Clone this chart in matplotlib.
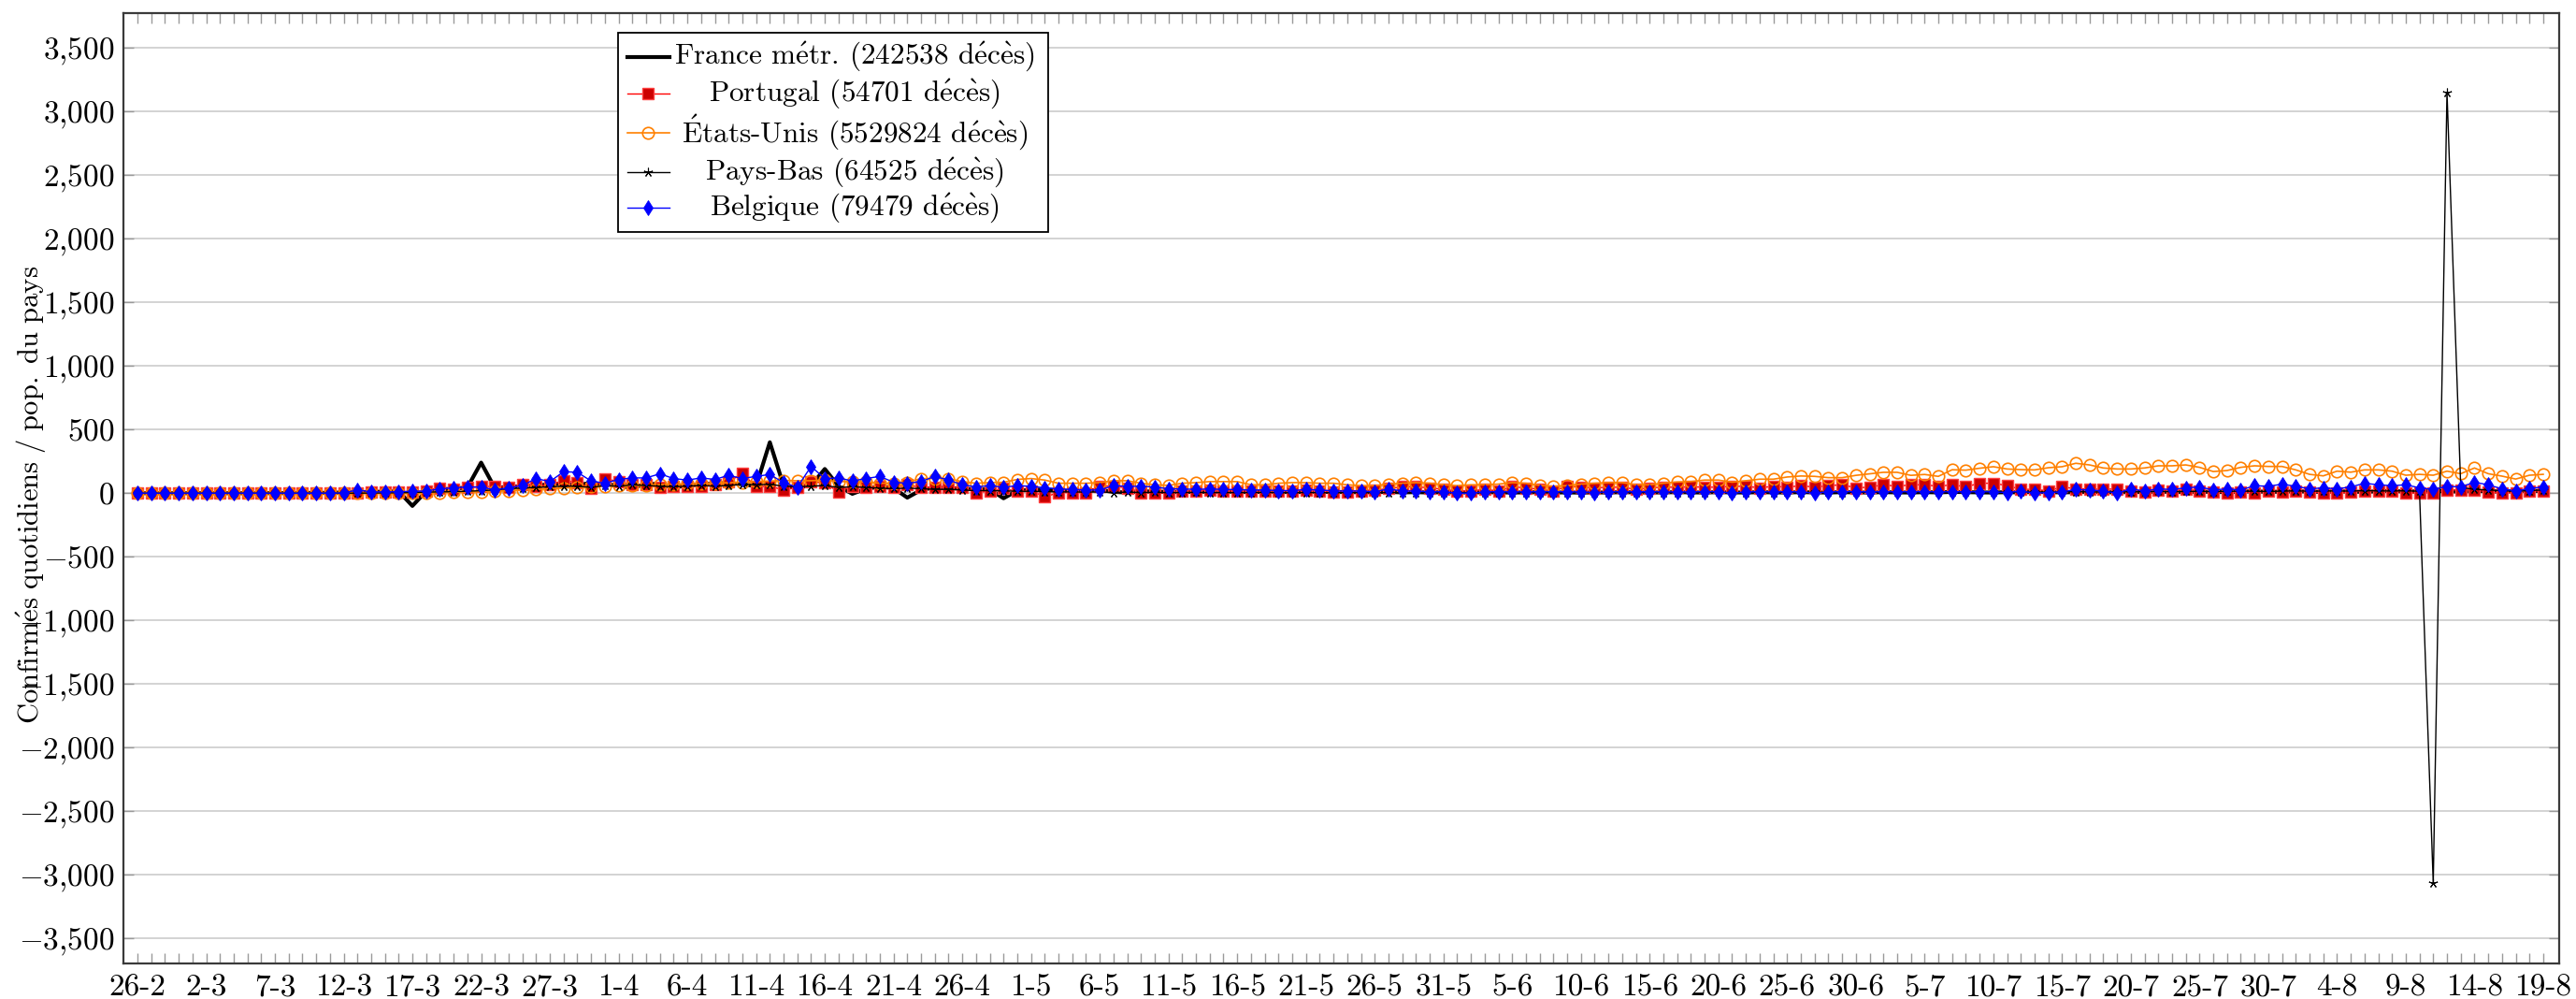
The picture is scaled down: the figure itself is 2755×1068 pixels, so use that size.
import numpy as np
import matplotlib
matplotlib.use('Agg')
import matplotlib.pyplot as plt
from matplotlib.lines import Line2D
from matplotlib.patches import Rectangle
from matplotlib.ticker import FuncFormatter, FixedLocator

plt.rcParams['mathtext.fontset'] = 'cm'
plt.rcParams['font.family'] = ['cmr10', 'DejaVu Serif']
plt.rcParams['axes.unicode_minus'] = False

# ---------------- data ----------------
tick_labels = ['26-2', '2-3', '7-3', '12-3', '17-3', '22-3', '27-3', '1-4', '6-4', '11-4',
               '16-4', '21-4', '26-4', '1-5', '6-5', '11-5', '16-5', '21-5', '26-5', '31-5',
               '5-6', '10-6', '15-6', '20-6', '25-6', '30-6', '5-7', '10-7', '15-7', '20-7',
               '25-7', '30-7', '4-8', '9-8', '14-8', '19-8']

france = [0, 0, 0, 0, 0, 0, 0, 0, 0, 0,
          1, 1, 2, 2, 3, 5, 8, 10, 12, 15,
          -100, 15, 30, 35, 45, 240, 40, 50, 55, 60,
          70, 75, 65, 80, 70, 60, 40, 75, 70, 45,
          60, 70, 75, 80, 70, 55, 400, 60, 45, 60,
          190, 55, -5, 35, 50, 40, -35, 25, 45, 40,
          35, 30, 30, -40, 20, 25, 30, 20, 15, 20,
          25, 10, 5, 15, 12, 10, 8, 12, 10, 15,
          10, 8, 12, 10, 8, 10, 12, 8, 10, 6,
          8, 10, 6, 8, 5, 8, 6, 5, 8, 6,
          5, 6, 8, 5, 6, 4, 6, 5, 8, 6,
          5, 6, 8, 6, 5, 8, 6, 5, 8, 6,
          5, 8, 6, 5, 8, 6, 5, 8, 6, 5,
          8, 6, 10, 8, 6, 5, 8, 6, 10, 8,
          6, 8, 10, 8, 6, 10, 8, 12, 10, 8,
          12, 10, 8, 12, 15, 10, 12, 15, 12, 10,
          15, 12, 10, 15, 18, 12, 15, 18, 15, 12,
          18, 15, 12, 18, 15, 20]

portugal = [0, 0, 0, 0, 0, 0, 0, 0, 0, 0,
            0, 0, 0, 0, 0, 2, 5, 8, 10, 12,
            10, 20, 42, 30, 45, 50, 55, 45, 70, 55,
            65, 100, 85, 35, 115, 90, 65, 65, 45, 55,
            55, 55, 65, 90, 155, 50, 55, 25, 45, 90,
            80, 10, 55, 45, 55, 45, 65, 45, 45, 45,
            45, 5, 15, 35, 15, 20, -30, 5, 5, 5,
            55, 55, 42, 5, 5, 0, 15, 20, 25, 15,
            20, 15, 15, 20, 15, 25, 15, 10, 10, 20,
            25, 35, 50, 50, 42, 30, 17, 17, 30, 17,
            50, 42, 30, 17, 54, 47, 42, 47, 47, 30,
            42, 47, 47, 50, 47, 47, 54, 54, 42, 54,
            47, 59, 47, 59, 66, 42, 47, 66, 54, 66,
            66, 54, 66, 50, 78, 78, 60, 30, 30, 17,
            50, 34, 34, 30, 34, 17, 10, 25, 17, 30,
            17, 10, 5, 10, 5, 17, 10, 17, 10, 5,
            0, 10, 17, 17, 17, 5, 0, 5, 25, 25,
            25, 10, 0, 5, 17, 17]

etats_unis = [0, 0, 0, 0, 0, 0, 0, 0, 0, 0,
              0, 0, 0, 0, 0, 0, 0, 0, 1, 1,
              2, 3, 5, 7, 9, 12, 15, 20, 25, 30,
              35, 40, 45, 50, 55, 60, 58, 62, 68, 70,
              72, 75, 78, 82, 85, 90, 95, 100, 98, 98,
              103, 91, 91, 91, 78, 78, 86, 115, 115, 115,
              91, 78, 83, 86, 108, 115, 103, 78, 78, 78,
              83, 98, 98, 78, 66, 61, 78, 83, 91, 91,
              91, 66, 66, 78, 83, 83, 78, 78, 66, 59,
              59, 71, 78, 83, 78, 66, 59, 66, 66, 71,
              83, 78, 61, 54, 59, 71, 78, 83, 83, 66,
              66, 78, 88, 91, 103, 103, 86, 98, 110, 110,
              127, 135, 132, 122, 122, 140, 152, 164, 164, 140,
              147, 132, 184, 181, 196, 208, 190, 185, 183, 200,
              208, 235, 222, 198, 190, 190, 198, 215, 215, 222,
              203, 170, 178, 203, 215, 210, 210, 183, 148, 136,
              173, 165, 183, 183, 173, 141, 148, 141, 173, 153,
              198, 153, 134, 111, 141, 148]

pays_bas = [0, 0, 0, 0, 0, 0, 0, 0, 0, 0,
            0, 0, 0, 0, 0, 0, 0, 1, 2, 3,
            5, 8, 10, 12, 15, 20, 25, 35, 40, 45,
            50, 55, 55, 45, 60, 55, 65, 60, 55, 50,
            55, 60, 55, 60, 70, 65, 70, 55, 50, 55,
            60, 45, 50, 45, 40, 35, 40, 35, 30, 30,
            25, 20, 20, 18, 15, 15, 12, 10, 10, 8,
            10, 5, 8, 5, 6, 4, 5, 6, 4, 5,
            4, 5, 6, 4, 3, 5, 4, 3, 5, 4,
            3, 4, 5, 3, 4, 3, 5, 4, 3, 4,
            3, 4, 3, 5, 4, 3, 4, 5, 3, 4,
            5, 4, 3, 5, 4, 6, 5, 4, 6, 5,
            6, 5, 7, 6, 5, 7, 6, 8, 7, 6,
            8, 7, 9, 8, 7, 10, 8, 9, 10, 8,
            10, 12, 10, 9, 12, 10, 12, 14, 12, 13,
            15, 12, 14, 16, 15, 13, 16, 18, 15, 17,
            18, 16, 20, 18, 17, 19, 15, -3065, 3150, 45,
            30, 25, 20, 15, 20, 25]

belgique = [0, 0, 0, 0, 0, 0, 0, 0, 0, 0,
            0, 0, 0, 0, 0, 2, 25, 10, 10, 12,
            15, 17, 34, 42, 49, 49, 25, 42, 61, 115,
            91, 169, 164, 96, 78, 108, 120, 120, 152, 115,
            103, 120, 108, 140, 115, 132, 147, 83, 47, 210,
            115, 120, 96, 115, 132, 86, 78, 91, 132, 103,
            66, 49, 59, 47, 59, 54, 42, 34, 29, 25,
            25, 59, 54, 54, 49, 34, 34, 29, 34, 29,
            29, 25, 25, 20, 20, 29, 25, 17, 17, 17,
            10, 34, 17, 17, 10, 12, 0, 0, 10, 12,
            10, 10, 12, 12, 10, 10, 5, 10, 12, 10,
            12, 10, 10, 10, 12, 12, 0, 10, 12, 10,
            12, 10, 0, 10, 12, 12, 10, 12, 10, 12,
            12, 10, 12, 10, 12, 10, 5, 17, 0, 5,
            10, 29, 25, 17, 0, 34, 17, 34, 29, 42,
            49, 25, 34, 25, 59, 54, 71, 54, 34, 42,
            34, 49, 78, 66, 59, 66, 42, 29, 54, 49,
            86, 66, 34, 17, 37, 49]

legend_labels = ['France métr. (242538 décès)', 'Portugal (54701 décès)',
                 'États-Unis (5529824 décès)', 'Pays-Bas (64525 décès)',
                 'Belgique (79479 décès)']
y_label = 'Confirmés quotidiens / pop. du pays'


def tex(s):
    """Render a string in Computer Modern via mathtext, with proper accents."""
    acc = {'é': r'\mathrm{\acute{e}}', 'è': r'\mathrm{\grave{e}}', 'É': r'\mathrm{\acute{E}}'}
    out, buf = [], ''
    for ch in s:
        if ch in acc:
            if buf:
                out.append(r'\text{' + buf + '}')
                buf = ''
            out.append(acc[ch])
        else:
            buf += ch
    if buf:
        out.append(r'\text{' + buf + '}')
    return '$' + ''.join(out) + '$'


def tex_rm(s):
    """Same idea, using \\mathrm (for strings without hyphens)."""
    s = s.replace(' ', r'\ ').replace('é', r'\acute{e}').replace('è', r'\grave{e}')
    return r'$\mathrm{' + s + '}$'


FS = 24
FS_LEG = 22.5
x = np.arange(len(france))

fig = plt.figure(figsize=(27.55, 10.68), dpi=100)
ax = fig.add_axes([132 / 2755, 38 / 1068, 2605 / 2755, 1016 / 1068])

styles = [
    dict(color='black', lw=3.0),
    dict(color='#ff0000', lw=1.0, marker='s', ms=9, mfc='#cc0000', mec='#ff4040', mew=1.0),
    dict(color='#ff8000', lw=1.2, marker='o', ms=9, mfc='none', mec='#ff8000', mew=1.2),
    dict(color='black', lw=1.0, marker=(5, 2, 0), ms=7, mew=0.8),
    dict(color='#0000ff', lw=1.0, marker='d', ms=8.5, mfc='#0000ff', mec='#0000ff', mew=0.6),
]
series = [france, portugal, etats_unis, pays_bas, belgique]
for i, (vals, st) in enumerate(zip(series, styles)):
    ax.plot(x, vals, zorder=3 + i, **st)

ax.set_xlim(-1.02, 176.16)
ax.set_ylim(-3695, 3772)

# y axis
ax.set_yticks(np.arange(-3500, 3501, 500))
ax.yaxis.set_major_formatter(FuncFormatter(lambda v, p: ('$%s$' % format(int(round(v)), ',')).replace(',', '{,}')))
ax.yaxis.grid(True, color='#cccccc', lw=1.2)
ax.set_axisbelow(True)

# x axis
ax.xaxis.set_major_locator(FixedLocator(x[::5]))
ax.set_xticklabels(tick_labels)
ax.xaxis.set_minor_locator(FixedLocator(x))
ax.tick_params(axis='x', which='both', direction='in', length=8, width=1.0, color='#9a9a9a',
               top=True, bottom=True, labelsize=FS, pad=8)
ax.tick_params(axis='y', which='both', direction='in', length=8, width=1.0, color='#9a9a9a',
               left=True, right=True, labelsize=FS, pad=7)
for sp in ax.spines.values():
    sp.set_color('#3a3a3a')
    sp.set_linewidth(1.6)

ax.set_ylabel(tex_rm(y_label), fontsize=22)
ax.yaxis.set_label_coords(-0.031, 0.493)

# legend (drawn as a box with centred entries)
lx0, lx1, ly0, ly1 = 0.2031, 0.3797, 0.7697, 0.9793
ax.add_patch(Rectangle((lx0, ly0), lx1 - lx0, ly1 - ly0, transform=ax.transAxes,
                       facecolor='white', edgecolor='black', lw=1.3, zorder=20))
rows = [0.9540, 0.9154, 0.8743, 0.8327, 0.7950]
hx0, hxm, hx1, tx = 0.2069, 0.2154, 0.2242, 0.3002
for ry, st, lab in zip(rows, styles, legend_labels):
    ln = Line2D([hx0, hxm, hx1], [ry, ry, ry], transform=ax.transAxes, markevery=[1], zorder=21, **st)
    ax.add_line(ln)
    ax.text(tx, ry, tex(lab), transform=ax.transAxes, ha='center', va='center', fontsize=FS_LEG, zorder=22)

fig.savefig('out.png', dpi=100)
